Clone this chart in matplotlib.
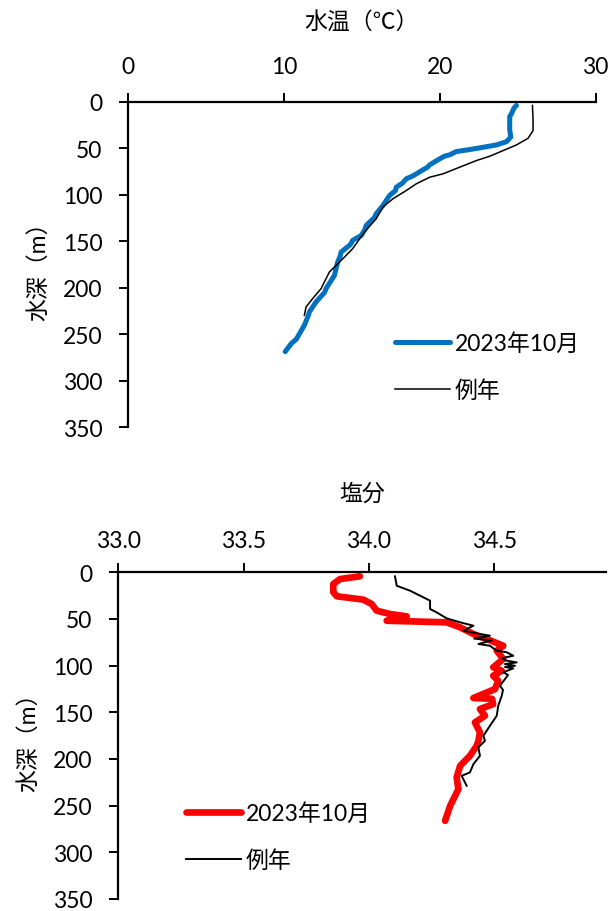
import numpy as np
import matplotlib
matplotlib.use("Agg")
import matplotlib.pyplot as plt

plt.rcParams['font.family'] = ['Lato', 'Noto Sans CJK JP', 'DejaVu Sans']

# 水温 2023年10月
temp_2023_t = [24.91, 24.75, 24.59, 24.48, 24.48, 24.55, 24.27, 23.62, 22.77, 21.90,
               21.05, 20.62, 20.30, 19.98, 19.34, 19.20, 19.02, 18.48, 18.30, 17.84,
               17.60, 17.20, 17.15, 16.77, 16.34, 15.91, 15.80, 15.27, 15.20, 14.95,
               14.40, 14.30, 14.19, 13.66, 13.60, 13.44, 13.23, 12.69, 12.60, 12.05,
               11.62, 11.55, 11.30, 10.87, 10.80, 10.46, 10.07]
temp_2023_d = [4, 7, 13, 16, 30, 38, 43, 46.5, 49, 51.5,
               53.6, 57.2, 58.5, 61.5, 67.9, 70.5, 72.2, 77.6, 79.5, 82.9,
               87.5, 91.9, 95.5, 100.8, 111.6, 120.5, 124.5, 133, 137, 143.8,
               149, 152.5, 154.5, 161.6, 166, 172.3, 186.7, 201, 205, 215.2,
               226, 230, 240.3, 252.8, 255, 260, 268.7]
# 水温 例年
temp_norm_t = [25.94, 25.98, 25.98, 25.66, 24.91, 24.05, 23.20, 22.34, 21.27, 20.19,
               19.34, 18.48, 17.84, 16.98, 16.34, 15.91, 15.16, 14.40, 13.77, 12.91,
               12.37, 11.83, 11.41, 11.30]
temp_norm_d = [4, 20, 31, 39.3, 46.5, 52.6, 58.6, 63.3, 70.4, 77.6,
               81.2, 88.3, 95.5, 104.4, 113.3, 125.9, 140.1, 158, 168.8, 183,
               201, 211.7, 220.6, 229.6]

# 塩分 2023年10月
sal_2023_s = [33.964, 33.885, 33.858, 33.858, 33.872, 33.978, 34.011, 34.031, 34.084, 34.151,
              34.084, 34.071, 34.310, 34.364, 34.417, 34.470, 34.536, 34.510, 34.536, 34.496,
              34.530, 34.496, 34.516, 34.503, 34.417, 34.491, 34.496, 34.443, 34.463, 34.423,
              34.443, 34.437, 34.430, 34.403, 34.364, 34.350, 34.357, 34.324, 34.304]
sal_2023_d = [4.3, 7.2, 12.5, 21.4, 25.7, 29.3, 34, 41.1, 44.7, 47.2,
              50.8, 51.9, 53.6, 59, 66.1, 71.5, 78.7, 84, 92.9, 101.8,
              105.5, 110.8, 116.2, 125.1, 134.7, 135.5, 141.2, 146.5, 153.7, 160.8,
              171.5, 180.5, 185.9, 196.6, 207.3, 219.7, 232.3, 250.2, 266.2]
# 塩分 例年
sal_norm_s = [34.104, 34.111, 34.164, 34.244, 34.244, 34.270, 34.310, 34.364, 34.417, 34.377,
              34.443, 34.483, 34.420, 34.490, 34.437, 34.483, 34.510, 34.550, 34.576, 34.530,
              34.550, 34.590, 34.543, 34.583, 34.543, 34.576, 34.536, 34.555, 34.543, 34.523,
              34.535, 34.530, 34.516, 34.510, 34.483, 34.457, 34.463, 34.437, 34.443, 34.417,
              34.403, 34.370, 34.390]
sal_norm_d = [4.3, 14.4, 19.7, 30.4, 39.3, 42.9, 49.3, 53.6, 57.2, 62.6,
              66.1, 67.9, 71, 73, 76.8, 78.7, 84, 85.7, 89.4, 92,
              94.7, 96.5, 98.3, 100.1, 101.5, 102.9, 107.2, 110, 114.4, 121.5,
              126, 132.3, 143, 153.7, 164.4, 175.1, 180.5, 187.6, 196.6, 205.5,
              214.4, 218, 228.7]

depth_ticks = [0, 50, 100, 150, 200, 250, 300, 350]
temp_ticks = [0, 10, 20, 30]
sal_ticks = [33.0, 33.5, 34.0, 34.5]

W, H = 613, 912
FS = 16.5
fig = plt.figure(figsize=(W / 100, H / 100), dpi=100)


def px_axes(left, top, right, bottom):
    return fig.add_axes([left / W, 1 - bottom / H, (right - left) / W, (bottom - top) / H])


def style(ax, xpad):
    ax.xaxis.tick_top()
    ax.xaxis.set_label_position('top')
    for s in ['right', 'bottom']:
        ax.spines[s].set_visible(False)
    for s in ['left', 'top']:
        ax.spines[s].set_linewidth(1.6)
    ax.tick_params(axis='both', direction='out', length=6.5, width=1.4, labelsize=FS)
    ax.tick_params(axis='y', pad=12)
    ax.tick_params(axis='x', pad=xpad)
    ax.set_ylim(350, 0)
    ax.set_yticks(depth_ticks)
    ax.set_ylabel('水深（m）', fontsize=FS, labelpad=10)


ax1 = px_axes(128.3, 102.7, 595.7, 428.3)
ax1.plot(temp_2023_t, temp_2023_d, color='#0070C0', lw=3.6, solid_capstyle='round',
         solid_joinstyle='round', label='2023年10月')
ax1.plot(temp_norm_t, temp_norm_d, color='black', lw=1.1, label='例年')
style(ax1, 11.5)
ax1.set_xlim(0, 30)
ax1.set_xticks(temp_ticks)
ax1.set_xlabel('水温（℃）', fontsize=FS, labelpad=20)
ax1.legend(loc='upper left', bbox_to_anchor=(395 / W, 1 - 333 / H), bbox_transform=fig.transFigure,
           frameon=False, fontsize=FS, handlelength=2.4, handletextpad=0.2,
           labelspacing=1.1, borderpad=0, borderaxespad=0)

ax2 = px_axes(118.3, 573.3, 606, 900)
ax2.plot(sal_2023_s, sal_2023_d, color='#FF0000', lw=4.8, solid_capstyle='round',
         solid_joinstyle='round', label='2023年10月')
ax2.plot(sal_norm_s, sal_norm_d, color='black', lw=1.4, label='例年')
style(ax2, 8.5)
ax2.set_xlim(33.0, 34.946)
ax2.set_xticks(sal_ticks)
ax2.set_xticklabels(['33.0', '33.5', '34.0', '34.5'])
ax2.set_xlabel('塩分', fontsize=FS, labelpad=22)
ax2.legend(loc='upper left', bbox_to_anchor=(186 / W, 1 - 803 / H), bbox_transform=fig.transFigure,
           frameon=False, fontsize=FS, handlelength=2.4, handletextpad=0.2,
           labelspacing=1.1, borderpad=0, borderaxespad=0)

fig.savefig('out.png', dpi=100)
